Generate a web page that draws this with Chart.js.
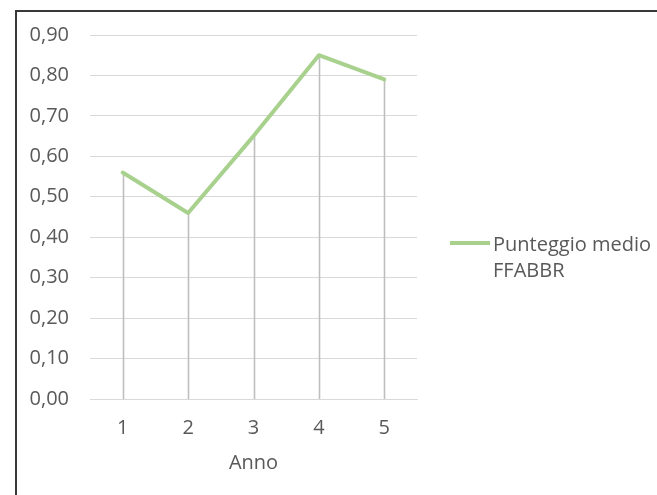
<!DOCTYPE html>
<html lang="it">
<head>
<meta charset="utf-8">
<title>Punteggio medio FFABBR</title>
<script src="https://cdn.jsdelivr.net/npm/chart.js@4.4.1/dist/chart.umd.min.js"></script>
<style>
    html, body { margin: 0; padding: 0; background: #fff; }
    #wrap { position: relative; width: 657px; height: 495px; overflow: hidden; }
    #frame {
        position: absolute; left: 15px; top: 10px; right: -10px; bottom: -10px;
        border-top: 2px solid #383838; border-left: 2px solid #383838;
    }
    #chart { position: absolute; left: 0; top: 0; }
</style>
</head>
<body>
<div id="wrap">
    <div id="frame"></div>
    <canvas id="chart" width="657" height="495"></canvas>
</div>
<script>
// Punteggio medio per anno
const anni = ['1', '2', '3', '4', '5'];
const punteggioMedio = [0.56, 0.46, 0.65, 0.85, 0.79];
const serieLabel = 'Punteggio medio FFABBR';
const legendLines = ['Punteggio medio', 'FFABBR'];
const yMin = 0, yMax = 0.9, yStep = 0.1;

const verde = '#a9d18e';
const testo = '#595959';
const griglia = '#d9d9d9';
const fontFamily = '"Open Sans", "DejaVu Sans", sans-serif';
const fontSize = 20;

// vertical drop lines from each point down to the x axis
const dropLines = {
    id: 'dropLines',
    beforeDatasetsDraw(chart) {
        const ctx = chart.ctx;
        const x = chart.scales.x, y = chart.scales.y;
        const base = y.getPixelForValue(0);
        ctx.save();
        ctx.strokeStyle = '#bfbfbf';
        ctx.lineWidth = 1.6;
        chart.data.datasets[0].data.forEach((v, i) => {
            const px = Math.round(x.getPixelForValue(i)) + 0.5;
            ctx.beginPath();
            ctx.moveTo(px, y.getPixelForValue(v));
            ctx.lineTo(px, base);
            ctx.stroke();
        });
        ctx.restore();
    }
};

// legend on the right, wrapped over two lines
const sideLegend = {
    id: 'sideLegend',
    afterDraw(chart) {
        const ctx = chart.ctx;
        const area = chart.chartArea;
        const x0 = area.right + 33;
        const ym = 243;
        ctx.save();
        ctx.strokeStyle = verde;
        ctx.lineWidth = 4;
        ctx.beginPath();
        ctx.moveTo(x0, ym);
        ctx.lineTo(x0 + 40, ym);
        ctx.stroke();
        ctx.fillStyle = testo;
        ctx.font = fontSize + 'px ' + fontFamily;
        ctx.textAlign = 'left';
        ctx.textBaseline = 'alphabetic';
        legendLines.forEach((line, i) => {
            ctx.fillText(line, x0 + 43, 251 + i * 26);
        });
        ctx.restore();
    }
};

const ctx = document.getElementById('chart').getContext('2d');
new Chart(ctx, {
    type: 'line',
    data: {
        labels: anni,
        datasets: [{
            label: serieLabel,
            data: punteggioMedio,
            borderColor: verde,
            backgroundColor: verde,
            borderWidth: 4,
            borderCapStyle: 'round',
            borderJoinStyle: 'round',
            pointRadius: 0,
            pointHoverRadius: 0,
            fill: false,
            tension: 0
        }]
    },
    options: {
        responsive: false,
        devicePixelRatio: 1,
        animation: false,
        layout: {
            padding: { left: 0, right: 240, top: 35, bottom: 0 }
        },
        plugins: {
            legend: { display: false },
            tooltip: { enabled: false }
        },
        scales: {
            x: {
                offset: true,
                grid: { display: false, drawTicks: false },
                border: { display: true, color: griglia, width: 1 },
                ticks: {
                    color: testo,
                    font: { family: fontFamily, size: fontSize },
                    padding: 17
                },
                title: {
                    display: true,
                    text: 'Anno',
                    color: testo,
                    font: { family: fontFamily, size: fontSize },
                    padding: { top: 0, bottom: 20 }
                },
                afterFit(scale) { scale.height = 96; }
            },
            y: {
                min: yMin,
                max: yMax,
                ticks: {
                    stepSize: yStep,
                    color: testo,
                    font: { family: fontFamily, size: fontSize },
                    padding: 21,
                    callback: v => v.toFixed(2).replace('.', ',')
                },
                grid: { color: griglia, lineWidth: 1, drawTicks: false },
                border: { display: false },
                afterFit(scale) { scale.width = 90; }
            }
        }
    },
    plugins: [dropLines, sideLegend]
});
</script>
</body>
</html>
